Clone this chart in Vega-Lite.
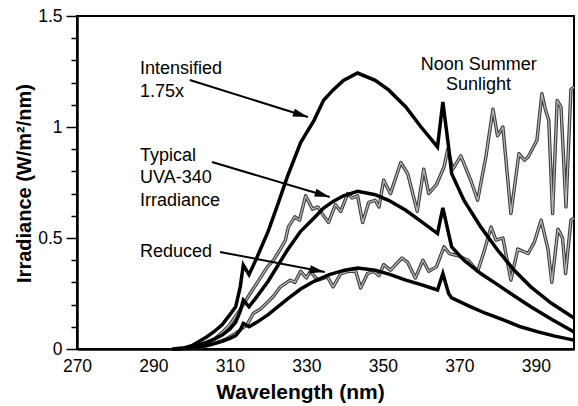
{
  "$schema": "https://vega.github.io/schema/vega-lite/v6.json",
  "width": 497,
  "height": 333,
  "autosize": {"type": "none"},
  "padding": {"left": 77, "top": 16, "right": 4, "bottom": 57},
  "background": "white",
  "config": {
    "view": {"stroke": "black", "strokeWidth": 2},
    "font": "Liberation Sans",
    "axis": {"labelFont": "Liberation Sans", "titleFont": "Liberation Sans", "labelColor": "black", "titleColor": "black", "domainColor": "black", "tickColor": "black", "grid": false}
  },
  "datasets": {
    "curves": [
      {"series": "Sun", "x": 296, "y": 0},
      {"series": "Sun", "x": 299, "y": 0.004},
      {"series": "Sun", "x": 302, "y": 0.012},
      {"series": "Sun", "x": 304, "y": 0.025},
      {"series": "Sun", "x": 306, "y": 0.045},
      {"series": "Sun", "x": 308, "y": 0.075},
      {"series": "Sun", "x": 310, "y": 0.11},
      {"series": "Sun", "x": 312, "y": 0.16},
      {"series": "Sun", "x": 313.5, "y": 0.2},
      {"series": "Sun", "x": 315.3, "y": 0.25},
      {"series": "Sun", "x": 317.2, "y": 0.3},
      {"series": "Sun", "x": 319.8, "y": 0.37},
      {"series": "Sun", "x": 321.4, "y": 0.4},
      {"series": "Sun", "x": 323.2, "y": 0.45},
      {"series": "Sun", "x": 324.5, "y": 0.49},
      {"series": "Sun", "x": 325.3, "y": 0.55},
      {"series": "Sun", "x": 327, "y": 0.595},
      {"series": "Sun", "x": 328.2, "y": 0.58},
      {"series": "Sun", "x": 329.8, "y": 0.69},
      {"series": "Sun", "x": 331.6, "y": 0.63},
      {"series": "Sun", "x": 333, "y": 0.64},
      {"series": "Sun", "x": 334.5, "y": 0.6},
      {"series": "Sun", "x": 335.8, "y": 0.57},
      {"series": "Sun", "x": 337.6, "y": 0.65},
      {"series": "Sun", "x": 339, "y": 0.62},
      {"series": "Sun", "x": 340.8, "y": 0.7},
      {"series": "Sun", "x": 342, "y": 0.68},
      {"series": "Sun", "x": 343.4, "y": 0.69},
      {"series": "Sun", "x": 344.7, "y": 0.57},
      {"series": "Sun", "x": 346.3, "y": 0.66},
      {"series": "Sun", "x": 348, "y": 0.67},
      {"series": "Sun", "x": 349, "y": 0.64},
      {"series": "Sun", "x": 350.2, "y": 0.76},
      {"series": "Sun", "x": 352, "y": 0.7},
      {"series": "Sun", "x": 354.7, "y": 0.84},
      {"series": "Sun", "x": 356.5, "y": 0.79},
      {"series": "Sun", "x": 359, "y": 0.62},
      {"series": "Sun", "x": 360.7, "y": 0.81},
      {"series": "Sun", "x": 362, "y": 0.7},
      {"series": "Sun", "x": 364, "y": 0.74},
      {"series": "Sun", "x": 366, "y": 0.82},
      {"series": "Sun", "x": 367, "y": 0.9},
      {"series": "Sun", "x": 368.3, "y": 0.81},
      {"series": "Sun", "x": 370.4, "y": 0.87},
      {"series": "Sun", "x": 373, "y": 0.76},
      {"series": "Sun", "x": 374.8, "y": 0.67},
      {"series": "Sun", "x": 377, "y": 0.87},
      {"series": "Sun", "x": 378.8, "y": 1.08},
      {"series": "Sun", "x": 380, "y": 0.96},
      {"series": "Sun", "x": 381.4, "y": 1.0},
      {"series": "Sun", "x": 383.5, "y": 0.61},
      {"series": "Sun", "x": 385.6, "y": 0.88},
      {"series": "Sun", "x": 387, "y": 0.85},
      {"series": "Sun", "x": 388, "y": 0.865},
      {"series": "Sun", "x": 390.3, "y": 0.94},
      {"series": "Sun", "x": 391.6, "y": 1.15},
      {"series": "Sun", "x": 392.5, "y": 1.08},
      {"series": "Sun", "x": 393.4, "y": 1.03},
      {"series": "Sun", "x": 394.4, "y": 0.61},
      {"series": "Sun", "x": 395.6, "y": 1.12},
      {"series": "Sun", "x": 396.6, "y": 1.09},
      {"series": "Sun", "x": 397.9, "y": 0.64},
      {"series": "Sun", "x": 399.2, "y": 1.17},
      {"series": "Sun", "x": 400, "y": 1.18},

      {"series": "SunHalf", "x": 297, "y": 0},
      {"series": "SunHalf", "x": 300, "y": 0.003},
      {"series": "SunHalf", "x": 303, "y": 0.01},
      {"series": "SunHalf", "x": 306, "y": 0.025},
      {"series": "SunHalf", "x": 309, "y": 0.045},
      {"series": "SunHalf", "x": 311, "y": 0.065},
      {"series": "SunHalf", "x": 313, "y": 0.09},
      {"series": "SunHalf", "x": 314.5, "y": 0.11},
      {"series": "SunHalf", "x": 316.1, "y": 0.16},
      {"series": "SunHalf", "x": 318, "y": 0.18},
      {"series": "SunHalf", "x": 319.8, "y": 0.21},
      {"series": "SunHalf", "x": 321.5, "y": 0.24},
      {"series": "SunHalf", "x": 323.2, "y": 0.28},
      {"series": "SunHalf", "x": 325.8, "y": 0.31},
      {"series": "SunHalf", "x": 327, "y": 0.3},
      {"series": "SunHalf", "x": 328.5, "y": 0.35},
      {"series": "SunHalf", "x": 330, "y": 0.32},
      {"series": "SunHalf", "x": 331, "y": 0.35},
      {"series": "SunHalf", "x": 333, "y": 0.31},
      {"series": "SunHalf", "x": 335.5, "y": 0.325},
      {"series": "SunHalf", "x": 337, "y": 0.28},
      {"series": "SunHalf", "x": 339, "y": 0.34},
      {"series": "SunHalf", "x": 341, "y": 0.35},
      {"series": "SunHalf", "x": 342.9, "y": 0.35},
      {"series": "SunHalf", "x": 344.2, "y": 0.275},
      {"series": "SunHalf", "x": 346, "y": 0.34},
      {"series": "SunHalf", "x": 347.6, "y": 0.35},
      {"series": "SunHalf", "x": 349, "y": 0.33},
      {"series": "SunHalf", "x": 350.2, "y": 0.38},
      {"series": "SunHalf", "x": 352, "y": 0.355},
      {"series": "SunHalf", "x": 355, "y": 0.41},
      {"series": "SunHalf", "x": 356.5, "y": 0.39},
      {"series": "SunHalf", "x": 358.5, "y": 0.32},
      {"series": "SunHalf", "x": 360.5, "y": 0.4},
      {"series": "SunHalf", "x": 362, "y": 0.35},
      {"series": "SunHalf", "x": 364, "y": 0.37},
      {"series": "SunHalf", "x": 366, "y": 0.46},
      {"series": "SunHalf", "x": 367.4, "y": 0.43},
      {"series": "SunHalf", "x": 369.7, "y": 0.42},
      {"series": "SunHalf", "x": 372.3, "y": 0.4},
      {"series": "SunHalf", "x": 374.8, "y": 0.35},
      {"series": "SunHalf", "x": 376.5, "y": 0.44},
      {"series": "SunHalf", "x": 378.3, "y": 0.55},
      {"series": "SunHalf", "x": 379.6, "y": 0.49},
      {"series": "SunHalf", "x": 381.4, "y": 0.5},
      {"series": "SunHalf", "x": 383.5, "y": 0.31},
      {"series": "SunHalf", "x": 385.3, "y": 0.45},
      {"series": "SunHalf", "x": 388, "y": 0.43},
      {"series": "SunHalf", "x": 389.6, "y": 0.48},
      {"series": "SunHalf", "x": 391.4, "y": 0.58},
      {"series": "SunHalf", "x": 393.2, "y": 0.45},
      {"series": "SunHalf", "x": 394.2, "y": 0.3},
      {"series": "SunHalf", "x": 395.8, "y": 0.54},
      {"series": "SunHalf", "x": 397, "y": 0.5},
      {"series": "SunHalf", "x": 397.8, "y": 0.34},
      {"series": "SunHalf", "x": 399.2, "y": 0.58},
      {"series": "SunHalf", "x": 400, "y": 0.59},

      {"series": "Intensified", "x": 295, "y": 0},
      {"series": "Intensified", "x": 298, "y": 0.005},
      {"series": "Intensified", "x": 300, "y": 0.015},
      {"series": "Intensified", "x": 302, "y": 0.035},
      {"series": "Intensified", "x": 304, "y": 0.055},
      {"series": "Intensified", "x": 306, "y": 0.08},
      {"series": "Intensified", "x": 308, "y": 0.11},
      {"series": "Intensified", "x": 310, "y": 0.155},
      {"series": "Intensified", "x": 311.5, "y": 0.19},
      {"series": "Intensified", "x": 312.7, "y": 0.28},
      {"series": "Intensified", "x": 313.5, "y": 0.378},
      {"series": "Intensified", "x": 315, "y": 0.335},
      {"series": "Intensified", "x": 317, "y": 0.41},
      {"series": "Intensified", "x": 320, "y": 0.53},
      {"series": "Intensified", "x": 322.5, "y": 0.65},
      {"series": "Intensified", "x": 325, "y": 0.775},
      {"series": "Intensified", "x": 328.5, "y": 0.93},
      {"series": "Intensified", "x": 332, "y": 1.03},
      {"series": "Intensified", "x": 334.5, "y": 1.12},
      {"series": "Intensified", "x": 337, "y": 1.167},
      {"series": "Intensified", "x": 339.7, "y": 1.21},
      {"series": "Intensified", "x": 343.4, "y": 1.243},
      {"series": "Intensified", "x": 348, "y": 1.21},
      {"series": "Intensified", "x": 351.5, "y": 1.167},
      {"series": "Intensified", "x": 356, "y": 1.09},
      {"series": "Intensified", "x": 360, "y": 1.0},
      {"series": "Intensified", "x": 364.3, "y": 0.91},
      {"series": "Intensified", "x": 365.7, "y": 1.113},
      {"series": "Intensified", "x": 367.2, "y": 0.91},
      {"series": "Intensified", "x": 368, "y": 0.79},
      {"series": "Intensified", "x": 371.2, "y": 0.67},
      {"series": "Intensified", "x": 375.6, "y": 0.55},
      {"series": "Intensified", "x": 380, "y": 0.446},
      {"series": "Intensified", "x": 384.3, "y": 0.356},
      {"series": "Intensified", "x": 388.7, "y": 0.28},
      {"series": "Intensified", "x": 394, "y": 0.207},
      {"series": "Intensified", "x": 400, "y": 0.14},

      {"series": "Typical", "x": 295, "y": 0},
      {"series": "Typical", "x": 298, "y": 0.003},
      {"series": "Typical", "x": 300, "y": 0.009},
      {"series": "Typical", "x": 302, "y": 0.02},
      {"series": "Typical", "x": 304, "y": 0.031},
      {"series": "Typical", "x": 306, "y": 0.046},
      {"series": "Typical", "x": 308, "y": 0.063},
      {"series": "Typical", "x": 310, "y": 0.09},
      {"series": "Typical", "x": 311.5, "y": 0.12},
      {"series": "Typical", "x": 312.7, "y": 0.17},
      {"series": "Typical", "x": 313.5, "y": 0.22},
      {"series": "Typical", "x": 315, "y": 0.19},
      {"series": "Typical", "x": 317, "y": 0.235},
      {"series": "Typical", "x": 320, "y": 0.305},
      {"series": "Typical", "x": 322.5, "y": 0.375},
      {"series": "Typical", "x": 325, "y": 0.445},
      {"series": "Typical", "x": 328.5, "y": 0.53},
      {"series": "Typical", "x": 332, "y": 0.59},
      {"series": "Typical", "x": 334.5, "y": 0.635},
      {"series": "Typical", "x": 337, "y": 0.665},
      {"series": "Typical", "x": 339.7, "y": 0.69},
      {"series": "Typical", "x": 343.4, "y": 0.71},
      {"series": "Typical", "x": 348, "y": 0.695},
      {"series": "Typical", "x": 351.5, "y": 0.67},
      {"series": "Typical", "x": 356, "y": 0.625},
      {"series": "Typical", "x": 360, "y": 0.575},
      {"series": "Typical", "x": 364.3, "y": 0.52},
      {"series": "Typical", "x": 365.7, "y": 0.636},
      {"series": "Typical", "x": 367.2, "y": 0.52},
      {"series": "Typical", "x": 368, "y": 0.46},
      {"series": "Typical", "x": 371.2, "y": 0.4},
      {"series": "Typical", "x": 375.6, "y": 0.34},
      {"series": "Typical", "x": 380, "y": 0.29},
      {"series": "Typical", "x": 384.3, "y": 0.24},
      {"series": "Typical", "x": 388.7, "y": 0.19},
      {"series": "Typical", "x": 394, "y": 0.135},
      {"series": "Typical", "x": 400, "y": 0.077},

      {"series": "Reduced", "x": 296, "y": 0},
      {"series": "Reduced", "x": 299, "y": 0.003},
      {"series": "Reduced", "x": 302, "y": 0.009},
      {"series": "Reduced", "x": 305, "y": 0.02},
      {"series": "Reduced", "x": 308, "y": 0.035},
      {"series": "Reduced", "x": 310, "y": 0.048},
      {"series": "Reduced", "x": 311.5, "y": 0.06},
      {"series": "Reduced", "x": 312.7, "y": 0.085},
      {"series": "Reduced", "x": 313.5, "y": 0.115},
      {"series": "Reduced", "x": 315, "y": 0.1},
      {"series": "Reduced", "x": 317, "y": 0.12},
      {"series": "Reduced", "x": 320, "y": 0.155},
      {"series": "Reduced", "x": 322.5, "y": 0.19},
      {"series": "Reduced", "x": 325, "y": 0.225},
      {"series": "Reduced", "x": 328.5, "y": 0.27},
      {"series": "Reduced", "x": 332, "y": 0.305},
      {"series": "Reduced", "x": 336, "y": 0.335},
      {"series": "Reduced", "x": 340, "y": 0.355},
      {"series": "Reduced", "x": 343.4, "y": 0.365},
      {"series": "Reduced", "x": 348, "y": 0.355},
      {"series": "Reduced", "x": 352, "y": 0.335},
      {"series": "Reduced", "x": 356, "y": 0.31},
      {"series": "Reduced", "x": 360, "y": 0.29},
      {"series": "Reduced", "x": 364.3, "y": 0.266},
      {"series": "Reduced", "x": 365.7, "y": 0.34},
      {"series": "Reduced", "x": 367.2, "y": 0.25},
      {"series": "Reduced", "x": 368, "y": 0.23},
      {"series": "Reduced", "x": 373, "y": 0.19},
      {"series": "Reduced", "x": 377, "y": 0.16},
      {"series": "Reduced", "x": 381.7, "y": 0.13},
      {"series": "Reduced", "x": 386, "y": 0.1},
      {"series": "Reduced", "x": 390.6, "y": 0.077},
      {"series": "Reduced", "x": 395, "y": 0.058},
      {"series": "Reduced", "x": 400, "y": 0.04}
    ],
    "arrows": [
      {"id": "a1", "x": 299.5, "y": 1.212, "x2": 330.4, "y2": 1.045},
      {"id": "a2", "x": 305.3, "y": 0.842, "x2": 336.1, "y2": 0.685},
      {"id": "a3", "x": 307.4, "y": 0.437, "x2": 334.8, "y2": 0.347}
    ],
    "notesLeft": [
      {"label": "Intensified", "x": 286.5, "y": 1.239},
      {"label": "1.75x", "x": 286.5, "y": 1.135},
      {"label": "Typical", "x": 286.5, "y": 0.847},
      {"label": "UVA-340", "x": 286.5, "y": 0.748},
      {"label": "Irradiance", "x": 286.5, "y": 0.644},
      {"label": "Reduced", "x": 286.5, "y": 0.414}
    ],
    "notesCenter": [
      {"label": "Noon Summer", "x": 375.1, "y": 1.257},
      {"label": "Sunlight", "x": 375.0, "y": 1.167}
    ]
  },
  "encoding": {
    "x": {"field": "x", "type": "quantitative", "scale": {"domain": [270, 400], "nice": false, "zero": false},
      "axis": {"values": [270, 290, 310, 330, 350, 370, 390], "ticks": false, "labelPadding": 8, "labelFontSize": 17.5, "labelFlush": false, "labelOverlap": false, "labelBound": false, "domainWidth": 2.5,
        "title": "Wavelength (nm)", "titleFontSize": 21, "titleFontWeight": "bold", "titleX": 223, "titleY": 49, "titleAlign": "center", "titleBaseline": "alphabetic"}},
    "y": {"field": "y", "type": "quantitative", "scale": {"domain": [0, 1.5], "nice": false},
      "axis": {"values": [0, 0.1, 0.2, 0.3, 0.4, 0.5, 0.6, 0.7, 0.8, 0.9, 1.0, 1.1, 1.2, 1.3, 1.4, 1.5],
        "labelExpr": "indexof([0, 5, 10, 15], round(datum.value * 10)) >= 0 ? format(datum.value, '.1~f') : ''",
        "tickSize": {"condition": {"test": "indexof([0, 5, 10, 15], round(datum.value * 10)) >= 0", "value": 11}, "value": 6},
        "tickWidth": 1.5, "labelPadding": 4, "labelFontSize": 17.5, "labelFlush": false, "labelOverlap": false, "labelBound": false, "domainWidth": 2.5,
        "title": "Irradiance (W/m²/nm)", "titleFontSize": 20, "titleFontWeight": "bold", "titleAngle": -90, "titleX": -47, "titleY": 167, "titleAlign": "center", "titleBaseline": "alphabetic"}}
  },
  "layer": [
    {
      "data": {"name": "curves"},
      "transform": [{"filter": "datum.series === 'Sun' || datum.series === 'SunHalf'"}],
      "mark": {"type": "line", "stroke": "#3a3a3a", "strokeWidth": 3.4, "strokeJoin": "round"},
      "encoding": {"detail": {"field": "series"}}
    },
    {
      "data": {"name": "curves"},
      "transform": [{"filter": "datum.series === 'Sun' || datum.series === 'SunHalf'"}],
      "mark": {"type": "line", "stroke": "#b5b5b5", "strokeWidth": 1.3, "strokeJoin": "round"},
      "encoding": {"detail": {"field": "series"}}
    },
    {
      "data": {"name": "curves"},
      "transform": [{"filter": "datum.series === 'Intensified' || datum.series === 'Typical' || datum.series === 'Reduced'"}],
      "mark": {"type": "line", "stroke": "black", "strokeWidth": 3.5},
      "encoding": {"detail": {"field": "series"}}
    },
    {
      "data": {"name": "arrows"},
      "mark": {"type": "rule", "stroke": "black", "strokeWidth": 2},
      "encoding": {"x2": {"field": "x2"}, "y2": {"field": "y2"}}
    },
    {
      "data": {"name": "arrows"},
      "transform": [{"filter": "datum.id === 'a1'"}],
      "mark": {"type": "point", "shape": "M0,0L-1,-0.27L-1,0.27Z", "size": 900, "filled": true, "opacity": 1, "color": "black", "strokeWidth": 0, "angle": 17.4},
      "encoding": {"x": {"field": "x2", "type": "quantitative"}, "y": {"field": "y2", "type": "quantitative"}}
    },
    {
      "data": {"name": "arrows"},
      "transform": [{"filter": "datum.id === 'a2'"}],
      "mark": {"type": "point", "shape": "M0,0L-1,-0.27L-1,0.27Z", "size": 900, "filled": true, "opacity": 1, "color": "black", "strokeWidth": 0, "angle": 16.5},
      "encoding": {"x": {"field": "x2", "type": "quantitative"}, "y": {"field": "y2", "type": "quantitative"}}
    },
    {
      "data": {"name": "arrows"},
      "transform": [{"filter": "datum.id === 'a3'"}],
      "mark": {"type": "point", "shape": "M0,0L-1,-0.27L-1,0.27Z", "size": 900, "filled": true, "opacity": 1, "color": "black", "strokeWidth": 0, "angle": 10.8},
      "encoding": {"x": {"field": "x2", "type": "quantitative"}, "y": {"field": "y2", "type": "quantitative"}}
    },
    {
      "data": {"name": "notesLeft"},
      "mark": {"type": "text", "align": "left", "baseline": "alphabetic", "fontSize": 18, "font": "Liberation Sans", "color": "black"},
      "encoding": {"text": {"field": "label"}}
    },
    {
      "data": {"name": "notesCenter"},
      "mark": {"type": "text", "align": "center", "baseline": "alphabetic", "fontSize": 18, "font": "Liberation Sans", "color": "black"},
      "encoding": {"text": {"field": "label"}}
    }
  ]
}
